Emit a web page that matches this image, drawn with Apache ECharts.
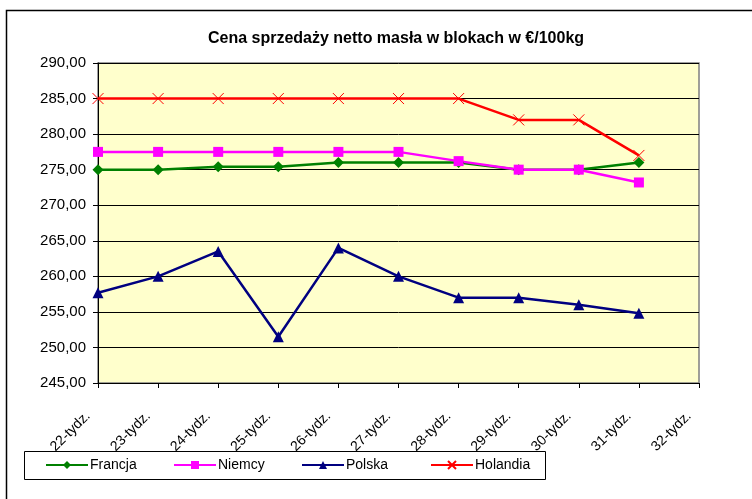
<!DOCTYPE html>
<html>
<head>
<meta charset="utf-8">
<script src="https://cdn.jsdelivr.net/npm/echarts@6/dist/echarts.min.js"></script>
<style>
  html, body { margin: 0; padding: 0; background: #fff; }
  #chart { width: 752px; height: 499px; }
</style>
</head>
<body>
<div id="chart"></div>
<script>
// weeks on the x axis (last one has no data)
var weeks = ['22-tydz.', '23-tydz.', '24-tydz.', '25-tydz.', '26-tydz.', '27-tydz.',
             '28-tydz.', '29-tydz.', '30-tydz.', '31-tydz.', '32-tydz.'];

var francja  = [275.0, 275.0, 275.4, 275.4, 276.0, 276.0, 276.0, 275.0, 275.0, 276.0, null];
var niemcy   = [277.5, 277.5, 277.5, 277.5, 277.5, 277.5, 276.2, 275.0, 275.0, 273.2, null];
var polska   = [257.7, 260.0, 263.5, 251.5, 264.0, 260.0, 257.0, 257.0, 256.0, 254.8, null];
var holandia = [285.0, 285.0, 285.0, 285.0, 285.0, 285.0, 285.0, 282.0, 282.0, 277.0, null];

var seriesNames = ['Francja', 'Niemcy', 'Polska', 'Holandia'];

var FONT = 'Liberation Sans, Arial, sans-serif';
var crossPath = 'path://M0,0L10,10M10,0L0,10';

function mkSeries(name, data, color, symbol, size, extra) {
    var s = {
        name: name,
        type: 'line',
        data: data,
        symbol: symbol,
        symbolSize: size,
        showAllSymbol: true,
        animation: false,
        lineStyle: {color: color, width: 2.5},
        itemStyle: {color: color}
    };
    return Object.assign(s, extra || {});
}

// one legend per entry so the columns sit at fixed places like in Excel
var legendLefts = [45, 173, 301, 430];
var legends = seriesNames.map(function (name, i) {
    return {
        data: [name],
        left: legendLefts[i],
        top: 458,
        padding: 0,
        itemWidth: 42,
        itemHeight: 10,
        textStyle: {fontFamily: FONT, fontSize: 14, color: '#000', padding: [0, 0, 0, -3]}
    };
});

var chart = echarts.init(document.getElementById('chart'));

var option = {
    backgroundColor: '#fff',
    animation: false,
    title: {
        text: 'Cena sprzedaży netto masła w blokach w €/100kg',
        left: 391,
        textAlign: 'center',
        top: 26,
        textStyle: {fontFamily: FONT, fontSize: 16, fontWeight: 'bold', color: '#000'}
    },
    graphic: [{
        // outer chart frame, only top and left edges fall inside the picture
        type: 'rect',
        shape: {x: 6.5, y: 10.5, width: 800, height: 600},
        style: {fill: 'none', stroke: '#000', lineWidth: 1.5},
        silent: true,
        z: -1
    }, {
        // legend box
        type: 'rect',
        shape: {x: 24.5, y: 451.5, width: 521, height: 28},
        style: {fill: 'none', stroke: '#000', lineWidth: 1},
        silent: true,
        z: -1
    }],
    grid: {
        left: 98, right: 53, top: 63, bottom: 116,
        show: true,
        backgroundColor: '#FFFFCC',
        borderColor: '#808080',
        borderWidth: 1.5
    },
    legend: legends,
    xAxis: {
        type: 'category',
        data: weeks,
        boundaryGap: false,
        axisLine: {lineStyle: {color: '#000'}},
        axisTick: {show: true, length: 5, lineStyle: {color: '#000'}},
        axisLabel: {
            rotate: 45, fontFamily: FONT, fontSize: 14, color: '#000',
            margin: 21, padding: [0, 14, 0, 0]
        },
        splitLine: {show: false}
    },
    yAxis: {
        type: 'value',
        min: 245,
        max: 290,
        interval: 5,
        axisLine: {show: true, lineStyle: {color: '#000'}},
        axisTick: {show: true, length: 5, lineStyle: {color: '#000'}},
        axisLabel: {
            fontFamily: FONT, fontSize: 15, color: '#000', margin: 12,
            formatter: function (v) { return v.toFixed(2).replace('.', ','); }
        },
        splitLine: {show: true, lineStyle: {color: '#000', width: 1}}
    },
    series: [
        mkSeries('Francja', francja, '#008000', 'diamond', 11),
        mkSeries('Niemcy', niemcy, '#FF00FF', 'rect', 10),
        mkSeries('Polska', polska, '#000080', 'triangle', 11),
        mkSeries('Holandia', holandia, '#FF0000', crossPath, 11, {
            itemStyle: {color: '#FF0000', borderColor: '#FF0000', borderWidth: 1}
        })
    ]
};

chart.setOption(option);
</script>
</body>
</html>
